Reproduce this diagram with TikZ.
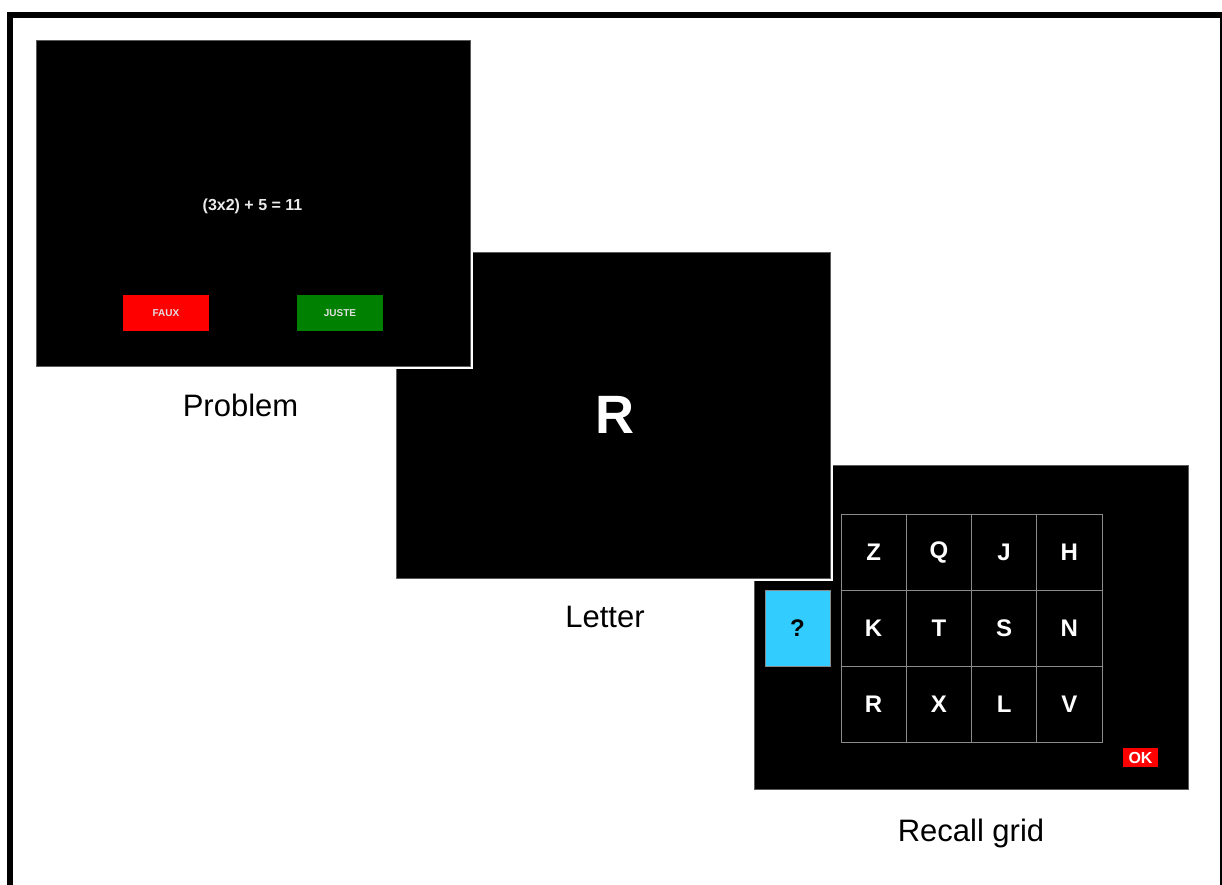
\documentclass[tikz,border=0pt]{standalone}
\usepackage{fontspec}
\setmainfont{Liberation Sans}
\definecolor{fauxred}{HTML}{FF0000}
\definecolor{justegreen}{HTML}{008000}
\definecolor{qcyan}{HTML}{33CCFF}
\definecolor{edgegray}{HTML}{5A5A5A}
\definecolor{gridgray}{HTML}{8A8A8A}
\begin{document}
\begin{tikzpicture}[x=1pt,y=-1pt,
  screen/.style={fill=black,draw=edgegray,line width=0.8pt,minimum width=434pt,minimum height=326pt,inner sep=0pt,anchor=north west},
  lbl/.style={font=\fontsize{31}{31}\selectfont,anchor=base,inner sep=0pt,text=black},
  btn/.style={minimum width=86pt,minimum height=36pt,inner sep=0pt,font=\fontsize{10}{10}\selectfont\bfseries,text=white!88!black},
  cell/.style={draw=gridgray,line width=0.8pt,minimum width=65.25pt,minimum height=76pt,inner sep=0pt,text=white,font=\fontsize{24}{24}\selectfont\bfseries},
  sepline/.style={white,line width=2pt}
]
\useasboundingbox (0,0) rectangle (1222,884);
\fill[white] (0,0) rectangle (1222,884);

% outer frame
\draw[line width=6pt] (10,900) -- (10,15) -- (1223,15) -- (1223,900);

% ---------- Screen 3: recall grid ----------
\node[screen,minimum height=324pt] (S3) at (754,465) {};
\foreach \L [count=\i from 0] in {Z,Q,J,H,K,T,S,N,R,X,L,V}{
  \pgfmathtruncatemacro{\col}{mod(\i,4)}
  \pgfmathtruncatemacro{\row}{div(\i,4)}
  \node[cell] (c\i) at ({841+65.25*(\col+0.5)},{514+76*(\row+0.5)}) {\L};
}
\node[draw=gridgray,line width=0.8pt,fill=qcyan,minimum width=65pt,minimum height=76pt,inner sep=0pt,
      font=\fontsize{24}{24}\selectfont\bfseries,text=black] (qbox) at (797.5,628) {?};
\node[fill=fauxred,minimum width=35pt,minimum height=19pt,inner sep=0pt,
      font=\fontsize{16}{16}\selectfont\bfseries,text=white] (ok) at (1140.5,757.5) {OK};

% ---------- Screen 2: letter ----------
\node[screen] (S2) at (396,252) {};
\draw[sepline] ([xshift=1pt]S2.north east) -- ([xshift=1pt,yshift=-1pt]S2.south east) -- ([yshift=-1pt]S2.south west);
\node[anchor=base,inner sep=0pt,text=white,font=\fontsize{54}{54}\selectfont\bfseries] (letter) at (615,433) {R};

% ---------- Screen 1: problem ----------
\node[screen] (S1) at (36,40) {};
\draw[sepline] ([xshift=1pt]S1.north east) -- ([xshift=1pt,yshift=-1pt]S1.south east) -- ([yshift=-1pt]S1.south west);
\node[anchor=base,inner sep=0pt,text=white!92!black,font=\fontsize{16}{16}\selectfont\bfseries] (eq) at (252.5,210) {(3x2) + 5 = 11};
\node[btn,fill=fauxred] (faux) at (166,313) {FAUX};
\node[btn,fill=justegreen] (juste) at (340,313) {JUSTE};

% ---------- labels ----------
\node[lbl] (lprob) at (240.5,416) {Problem};
\node[lbl] (llet) at (605,627) {Letter};
\node[lbl] (lrec) at (971,841) {Recall grid};
\end{tikzpicture}
\end{document}
